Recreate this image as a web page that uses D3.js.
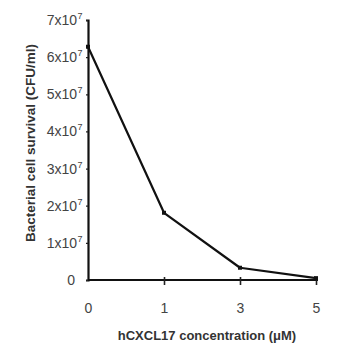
<!DOCTYPE html>
<html><head><meta charset="utf-8">
<script src="https://cdn.jsdelivr.net/npm/d3@7"></script>
<style>body{margin:0;background:#fff}svg{display:block}</style>
</head><body>
<script>
const categories = ["0", "1", "3", "5"];
const survival = [6.28e7, 1.81e7, 0.33e7, 0.05e7];
const yTicks = [0, 1e7, 2e7, 3e7, 4e7, 5e7, 6e7, 7e7];
const yTickLabels = ["0", "1x10", "2x10", "3x10", "4x10", "5x10", "6x10", "7x10"];
const xTitle = "hCXCL17 concentration (\u03bcM)";
const yTitle = "Bacterial cell survival (CFU/ml)";

const W = 358, H = 358;
const svg = d3.select("body").append("svg").attr("width", W).attr("height", H);
const x = d3.scalePoint().domain(categories).range([88, 316]);
const y = d3.scaleLinear().domain([0, 7e7]).range([280, 20]);
const font = "Liberation Sans, Arial, sans-serif";
const textCol = "#444";

// Y axis
const ya = svg.append("g").attr("transform", "translate(88,0)")
  .call(d3.axisLeft(y).tickValues(yTicks).tickSize(2).tickFormat(""));
ya.select(".domain").attr("stroke", "#111").attr("stroke-width", 2.2);
ya.selectAll(".tick line").attr("stroke", "#222").attr("stroke-width", 1.2);

// Y tick labels with superscript
yTicks.forEach((v, i) => {
  svg.append("text").attr("x", i === 0 ? 75 : 77).attr("y", y(v) + 5)
    .attr("text-anchor", "end").attr("font-family", font).attr("font-size", 14)
    .attr("fill", textCol).text(yTickLabels[i]);
  if (i > 0) {
    svg.append("text").attr("x", 77.5).attr("y", y(v) - 1)
      .attr("font-family", font).attr("font-size", 9).attr("fill", textCol).text("7");
  }
});

// X axis
const xa = svg.append("g").attr("transform", "translate(0,280)")
  .call(d3.axisBottom(x).tickSize(5).tickSizeOuter(0).tickPadding(18));
xa.select(".domain").attr("stroke", "#111").attr("stroke-width", 2.2)
  .attr("d", "M88,0H318");
xa.selectAll(".tick line").attr("stroke", "#222").attr("stroke-width", 1.6)
  .attr("y1", -3).attr("y2", 5)
  .filter(d => d === "0").remove();
xa.selectAll(".tick text").attr("font-family", font).attr("font-size", 14).attr("fill", textCol);

// Line
const line = d3.line().x((d, i) => x(categories[i])).y(d => y(d));
svg.append("path").datum(survival).attr("d", line).attr("fill", "none")
  .attr("stroke", "#111").attr("stroke-width", 2.2).attr("stroke-linejoin", "round");
svg.selectAll("rect.pt").data(survival).enter().append("rect").attr("class", "pt")
  .attr("x", (d, i) => x(categories[i]) - 2).attr("y", d => y(d) - 2)
  .attr("width", 4).attr("height", 4).attr("fill", "#111");

// Titles
svg.append("text").attr("x", 207).attr("y", 340).attr("text-anchor", "middle")
  .attr("font-family", font).attr("font-weight", "bold").attr("font-size", 13)
  .attr("fill", "#333").text(xTitle);
svg.append("text").attr("transform", "translate(35,143) rotate(-90)").attr("text-anchor", "middle")
  .attr("font-family", font).attr("font-weight", "bold").attr("font-size", 13.5)
  .attr("fill", "#333").text(yTitle);
</script>
</body></html>
